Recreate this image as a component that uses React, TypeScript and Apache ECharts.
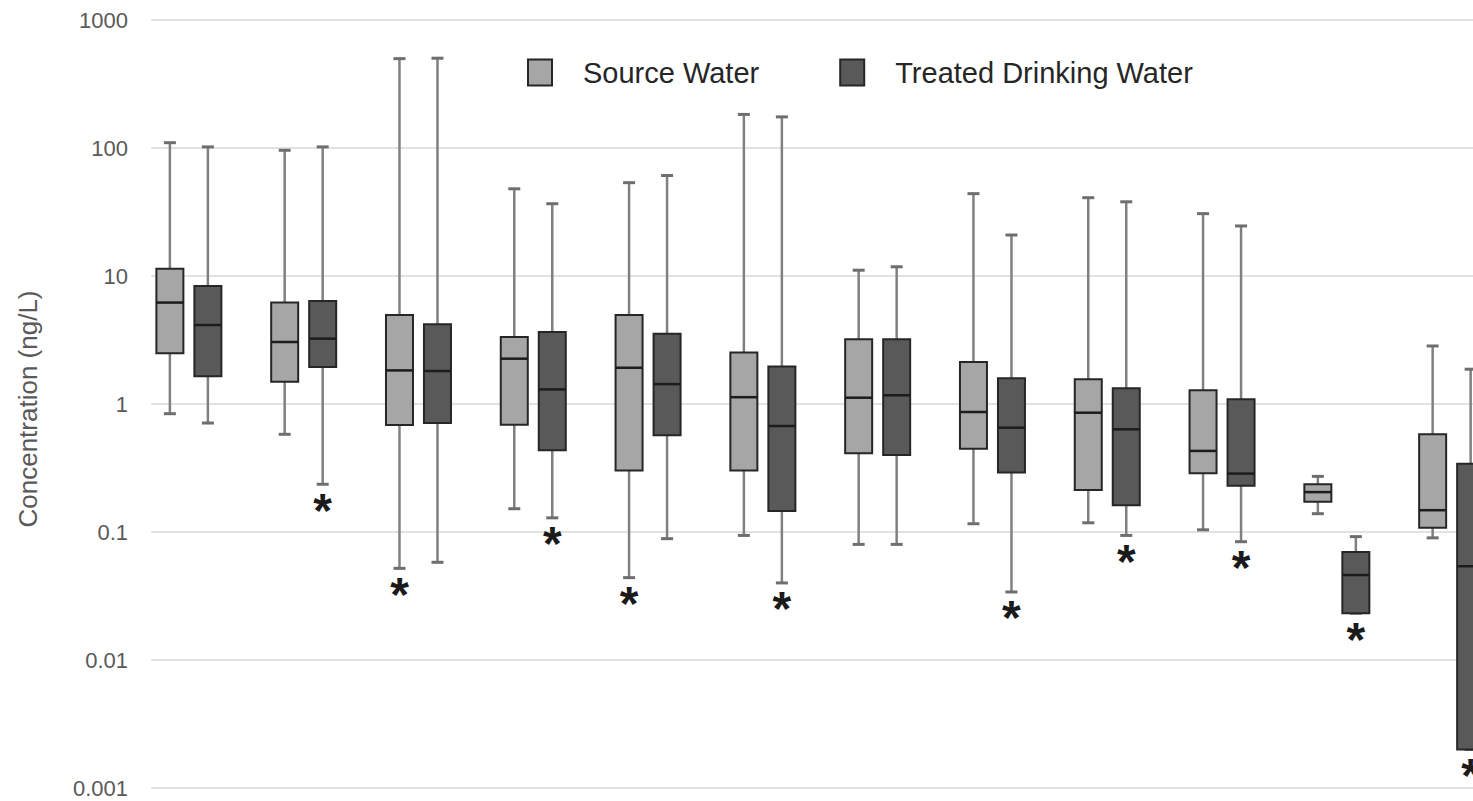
import React, { useEffect, useRef } from "react";
import * as echarts from "echarts";

// Groups (no category labels are shown in the figure)
const categories = ["1", "2", "3", "4", "5", "6", "7", "8", "9", "10", "11", "12"];

// Source Water box statistics (ng/L)
const sourceMin = [0.84, 0.58, 0.052, 0.152, 0.044, 0.094, 0.08, 0.116, 0.118, 0.104, 0.139, 0.09];
const sourceQ1 = [2.49, 1.49, 0.686, 0.69, 0.303, 0.303, 0.412, 0.448, 0.213, 0.288, 0.172, 0.108];
const sourceMedian = [6.2, 3.05, 1.83, 2.26, 1.92, 1.13, 1.12, 0.866, 0.855, 0.43, 0.205, 0.148];
const sourceQ3 = [11.4, 6.2, 4.96, 3.34, 4.96, 2.52, 3.2, 2.13, 1.56, 1.28, 0.236, 0.58];
const sourceMax = [110, 96, 499, 48, 53.6, 183, 11.1, 44, 40.9, 30.7, 0.272, 2.84];
const sourceStar = [0, 0, 1, 0, 1, 0, 0, 0, 0, 0, 0, 0];

// Treated Drinking Water box statistics (ng/L)
const treatedMin = [0.71, 0.236, 0.058, 0.129, 0.0887, 0.04, 0.08, 0.034, 0.094, 0.084, 0.0232, 0.002];
const treatedQ1 = [1.65, 1.95, 0.71, 0.435, 0.569, 0.146, 0.4, 0.291, 0.162, 0.23, 0.0232, 0.002];
const treatedMedian = [4.14, 3.24, 1.81, 1.3, 1.43, 0.673, 1.17, 0.653, 0.634, 0.286, 0.0461, 0.054];
const treatedQ3 = [8.35, 6.38, 4.2, 3.65, 3.54, 1.96, 3.2, 1.59, 1.33, 1.09, 0.0698, 0.342];
const treatedMax = [102, 102, 503, 36.7, 61, 175, 11.8, 20.9, 38, 24.6, 0.092, 1.87];
const treatedStar = [0, 1, 0, 1, 0, 1, 0, 1, 1, 1, 1, 1];

const yTickLabels = ["0.001", "0.01", "0.1", "1", "10", "100", "1000"];

const seriesNames = ["Source Water", "Treated Drinking Water"];

const FONT = '"Liberation Sans", Arial, sans-serif';

function buildData(mins: number[], q1: number[], med: number[], q3: number[], max: number[], star: number[]) {
  return categories.map((_, i) => [i, mins[i], q1[i], med[i], q3[i], max[i], star[i]]);
}

function makeRenderItem(offset: number, fill: string) {
  const boxW = 27;
  const capW = 12;
  return (params: any, api: any) => {
    const idx = api.value(0);
    const lo = api.value(1);
    const q1 = api.value(2);
    const med = api.value(3);
    const q3 = api.value(4);
    const hi = api.value(5);
    const star = api.value(6);
    const cx = api.coord([idx, med])[0] + offset;
    const yLo = api.coord([idx, lo])[1];
    const yQ1 = api.coord([idx, q1])[1];
    const yMed = api.coord([idx, med])[1];
    const yQ3 = api.coord([idx, q3])[1];
    const yHi = api.coord([idx, hi])[1];
    const whisker = { stroke: "#808080", lineWidth: 2.5 };
    const cap = { stroke: "#6e6e6e", lineWidth: 3 };
    const children: any[] = [
      { type: "line", shape: { x1: cx, y1: yQ3, x2: cx, y2: yHi }, style: whisker },
      { type: "line", shape: { x1: cx, y1: yQ1, x2: cx, y2: yLo }, style: whisker },
      { type: "line", shape: { x1: cx - capW / 2, y1: yHi, x2: cx + capW / 2, y2: yHi }, style: cap },
      { type: "line", shape: { x1: cx - capW / 2, y1: yLo, x2: cx + capW / 2, y2: yLo }, style: cap },
      {
        type: "rect",
        shape: { x: cx - boxW / 2, y: yQ3, width: boxW, height: yQ1 - yQ3 },
        style: { fill, stroke: "#262626", lineWidth: 2 },
      },
      {
        type: "line",
        shape: { x1: cx - boxW / 2, y1: yMed, x2: cx + boxW / 2, y2: yMed },
        style: { stroke: "#1c1c1c", lineWidth: 2.5 },
      },
    ];
    if (star) {
      children.push({
        type: "text",
        style: {
          text: "*",
          x: cx,
          y: yLo + 26,
          align: "center",
          verticalAlign: "middle",
          font: `bold 48px ${FONT}`,
          fill: "#1a1a1a",
        },
      });
    }
    return { type: "group", children };
  };
}

export default function App() {
  const ref = useRef<HTMLDivElement>(null);
  useEffect(() => {
    document.body.style.margin = "0";
    const chart = echarts.init(ref.current as HTMLDivElement, null, { renderer: "svg" });
    const option: any = {
      animation: false,
      backgroundColor: "#ffffff",
      grid: { left: 151, right: 0, top: 20, bottom: 13, containLabel: false },
      legend: {
        left: 522,
        top: 53,
        itemWidth: 24,
        itemHeight: 26,
        itemGap: 80,
        icon: "rect",
        selectedMode: false,
        textStyle: { fontSize: 29, color: "#262626", fontFamily: FONT, padding: [0, 0, 0, 26] },
        data: [
          { name: seriesNames[0], itemStyle: { color: "#a6a6a6", borderColor: "#262626", borderWidth: 2 } },
          { name: seriesNames[1], itemStyle: { color: "#595959", borderColor: "#262626", borderWidth: 2 } },
        ],
      },
      xAxis: {
        type: "value",
        min: -0.33,
        max: 11.186,
        show: false,
        splitLine: { show: false },
      },
      yAxis: {
        type: "log",
        logBase: 10,
        min: 0.001,
        max: 1000,
        name: "Concentration (ng/L)",
        nameLocation: "middle",
        nameRotate: 90,
        nameGap: 110,
        nameTextStyle: { fontSize: 26, color: "#595959", fontFamily: FONT, padding: [0, 10, 0, 0] },
        axisLine: { show: false },
        axisTick: { show: false },
        axisLabel: {
          margin: 23,
          fontSize: 22,
          color: "#595959",
          fontFamily: FONT,
          formatter: (v: number) => {
            const k = Math.round(Math.log10(v)) + 3;
            return yTickLabels[k] ?? "";
          },
        },
        splitLine: { show: true, lineStyle: { color: "#d9d9d9", width: 1.5 } },
      },
      series: [
        {
          name: seriesNames[0],
          type: "custom",
          renderItem: makeRenderItem(-19, "#a6a6a6"),
          encode: { x: 0, y: [1, 2, 3, 4, 5] },
          itemStyle: { color: "#a6a6a6", borderColor: "#262626", borderWidth: 2 },
          data: buildData(sourceMin, sourceQ1, sourceMedian, sourceQ3, sourceMax, sourceStar),
          clip: false,
        },
        {
          name: seriesNames[1],
          type: "custom",
          renderItem: makeRenderItem(19, "#595959"),
          encode: { x: 0, y: [1, 2, 3, 4, 5] },
          itemStyle: { color: "#595959", borderColor: "#262626", borderWidth: 2 },
          data: buildData(treatedMin, treatedQ1, treatedMedian, treatedQ3, treatedMax, treatedStar),
          clip: false,
        },
      ],
    };
    chart.setOption(option);
    return () => chart.dispose();
  }, []);
  return <div ref={ref} style={{ width: 1473, height: 801 }} />;
}
